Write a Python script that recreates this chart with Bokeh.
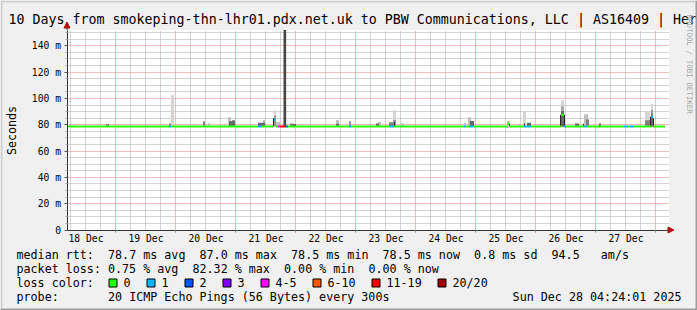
import re
import numpy as np
import pandas as pd
from bokeh.plotting import figure
from bokeh.models import (Range1d, FixedTicker, DatetimeTickFormatter, Label, Grid,
                          BoxAnnotation, Arrow, NormalHead, ColumnDataSource)
from bokeh.embed import file_html
from bokeh.resources import INLINE

# ------------------------------------------------------------------ data
title_text = "10 Days from smokeping-thn-lhr01.pdx.net.uk to PBW Communications, LLC | AS16409 | Her"
graph_start = "2025-12-18 04:24:01"
graph_end = "2025-12-28 04:24:01"
data_end = "2025-12-28 03:36"
stamp_text = "Sun Dec 28 04:24:01 2025"

y_tick_values = [0, 20, 40, 60, 80, 100, 120, 140]
y_tick_labels = ["0", "20 m", "40 m", "60 m", "80 m", "100 m", "120 m", "140 m"]
x_tick_days = ["2025-12-18", "2025-12-19", "2025-12-20", "2025-12-21", "2025-12-22",
               "2025-12-23", "2025-12-24", "2025-12-25", "2025-12-26", "2025-12-27"]
x_tick_labels = ["18 Dec", "19 Dec", "20 Dec", "21 Dec", "22 Dec",
                 "23 Dec", "24 Dec", "25 Dec", "26 Dec", "27 Dec"]

# median rtt (ms) as a step series with lost pings (of 20) per step
med_time = ["2025-12-18 04:24", "2025-12-19 21:12", "2025-12-19 22:00", "2025-12-21 08:48",
            "2025-12-21 10:00", "2025-12-21 15:12", "2025-12-21 16:00", "2025-12-21 16:48",
            "2025-12-21 17:36", "2025-12-21 20:00", "2025-12-21 20:48", "2025-12-22 21:12",
            "2025-12-22 22:00", "2025-12-23 13:36", "2025-12-23 15:12", "2025-12-24 19:12",
            "2025-12-24 19:36", "2025-12-24 21:12", "2025-12-24 23:12", "2025-12-25 12:48",
            "2025-12-25 13:12", "2025-12-25 19:12", "2025-12-25 22:00", "2025-12-26 10:00",
            "2025-12-26 11:12", "2025-12-26 12:00", "2025-12-26 19:12", "2025-12-26 20:24",
            "2025-12-27 01:12", "2025-12-27 01:36", "2025-12-27 11:12", "2025-12-27 12:48",
            "2025-12-27 13:36", "2025-12-27 15:12", "2025-12-27 22:00", "2025-12-27 22:48"]
med_value = [78.7, 78.7, 78.7, 78.7, 78.7, 84.0, 78.7, 78.7, 78.7, 78.7, 78.7, 78.7,
             78.7, 78.7, 78.7, 78.7, 78.7, 78.7, 78.7, 81.0, 78.7, 78.7, 78.7, 87.5,
             78.7, 78.7, 78.7, 78.7, 78.7, 78.7, 78.7, 78.7, 78.7, 78.7, 86.0, 78.7]
med_loss = [0, 1, 0, 1, 0, 1, 0, 4, 15, 2, 0, 1,
            0, 1, 0, 1, 0, 1, 0, 0, 0, 1, 0, 0,
            1, 0, 1, 0, 1, 0, 1, 0, 1, 0, 1, 0]

# smoke: ping spread above the median (start, minutes, top ms, density 0..1)
smoke_time = ["2025-12-18 20:00", "2025-12-19 21:12", "2025-12-19 22:00", "2025-12-20 10:48",
              "2025-12-20 12:48", "2025-12-20 17:36", "2025-12-20 19:12", "2025-12-20 20:48",
              "2025-12-20 21:12", "2025-12-20 22:24", "2025-12-21 08:48", "2025-12-21 10:48",
              "2025-12-21 14:48", "2025-12-21 15:12", "2025-12-21 15:12", "2025-12-21 16:00",
              "2025-12-21 19:00", "2025-12-21 21:36", "2025-12-21 23:12", "2025-12-22 16:00",
              "2025-12-22 16:00", "2025-12-22 21:12", "2025-12-23 08:00", "2025-12-23 08:48",
              "2025-12-23 13:12", "2025-12-23 14:48", "2025-12-23 14:48", "2025-12-23 15:12",
              "2025-12-23 17:36", "2025-12-24 19:12", "2025-12-24 20:48", "2025-12-24 21:36",
              "2025-12-25 12:24", "2025-12-25 13:12", "2025-12-25 17:12", "2025-12-25 18:48",
              "2025-12-25 19:12", "2025-12-25 20:24", "2025-12-26 09:36", "2025-12-26 10:00",
              "2025-12-26 10:00", "2025-12-26 10:00", "2025-12-26 11:12", "2025-12-26 15:36",
              "2025-12-26 18:48", "2025-12-26 19:12", "2025-12-26 20:00", "2025-12-27 01:12",
              "2025-12-27 19:36", "2025-12-27 19:36", "2025-12-27 21:36", "2025-12-27 22:00",
              "2025-12-27 22:00", "2025-12-27 22:00", "2025-12-27 22:48"]
smoke_minutes = [72, 48, 72, 48, 48, 24, 24, 72, 144, 72, 168, 48,
                 24, 48, 48, 96, 64, 96, 48, 72, 72, 48, 72, 72,
                 96, 72, 72, 24, 96, 48, 72, 96, 72, 24, 24, 72,
                 24, 96, 24, 72, 72, 72, 24, 96, 24, 96, 72, 48,
                 120, 120, 24, 48, 48, 48, 24]
smoke_top = [80.6, 81.0, 102.5, 82.4, 81.2, 80.6, 80.6, 85.7, 82.6, 83.6, 81.6, 83.6,
             85.0, 91.0, 87.0, 82.0, 152.0, 81.0, 80.4, 83.6, 80.8, 82.6, 81.0, 82.0,
             81.9, 91.0, 83.6, 82.0, 81.0, 81.4, 85.7, 82.8, 82.6, 80.5, 80.3, 89.7,
             81.0, 81.5, 87.5, 98.7, 94.0, 90.5, 87.5, 81.0, 80.8, 88.0, 84.0, 81.0,
             89.7, 83.4, 86.0, 96.0, 91.0, 88.0, 85.0]
smoke_density = [0.6, 0.6, 0.2, 0.6, 0.3, 0.3, 0.3, 0.3, 0.7, 0.5, 0.7, 0.3,
                 1.0, 0.2, 0.5, 0.3, 0.85, 0.6, 0.9, 0.3, 0.7, 0.5, 0.7, 0.3,
                 0.6, 0.2, 0.5, 1.0, 0.3, 0.3, 0.3, 0.7, 0.3, 1.0, 0.3, 0.2,
                 1.0, 0.7, 1.0, 0.2, 0.4, 0.7, 1.0, 0.7, 1.0, 0.3, 0.6, 0.7,
                 0.2, 0.6, 1.0, 0.2, 0.5, 0.7, 1.0]
median_baseline = 78.7

loss_labels = ["0", "1", "2", "3", "4-5", "6-10", "11-19", "20/20"]
loss_upper = [0, 1, 2, 3, 5, 10, 19, 20]
loss_colors = ["#26ff00", "#00b8ff", "#0059ff", "#7e00ff", "#ff00ff", "#ff5500", "#ff0000", "#a10000"]

median_stats = [78.7, 87.0, 78.5, 78.5, 0.8, 94.5]
loss_stats = [0.75, 82.32, 0.00, 0.00]
probe_text = "20 ICMP Echo Pings (56 Bytes) every 300s"

# ------------------------------------------------------------------ helpers
W, H = 697, 310
FL, FR, FT, FB = 66.5, 666.5, 29.5, 229.5   # plot-area edges (pixel centres)
MONO = "DejaVu Sans Mono"
Y_TOP = 152.0


def ms(values):
    return pd.DatetimeIndex(pd.to_datetime(values)).as_unit("ns").asi8 / 1e6


def loss_color(n):
    for up, c in zip(loss_upper, loss_colors):
        if n <= up:
            return c
    return loss_colors[-1]


def gray(d):
    g = int(round(255 - d * 215))
    return "#%02x%02x%02x" % (g, g, g)


X0 = ms([graph_start])[0]
X1 = ms([graph_end])[0]
x_per_px = (X1 - X0) / (FR - FL)
y_per_px = Y_TOP / (FB - FT)

# the frame covers the whole canvas; the plot area is mapped to FL..FR / FT..FB
p = figure(width=W, height=H, x_axis_type="datetime",
           x_range=Range1d(X0 - FL * x_per_px, X1 + (W - FR) * x_per_px),
           y_range=Range1d(-(H - FB) * y_per_px, Y_TOP + FT * y_per_px),
           output_backend="svg", toolbar_location=None, title=None,
           min_border=0, background_fill_color="#f0f0f0", border_fill_color="#f0f0f0",
           outline_line_color=None)

# white plot canvas
p.add_layout(BoxAnnotation(left=X0, right=X1 + 2 * x_per_px, bottom=0, top=Y_TOP,
                           fill_color="white", fill_alpha=1.0, line_color=None,
                           level="image"))

# ------------------------------------------------------------------ grids
noons = ms(x_tick_days) + 12 * 3600000.0
midnights = ms(x_tick_days) + 24 * 3600000.0
mid_set = set(midnights)
six_hours = [t for t in np.arange(ms(["2025-12-18 06:00"])[0], X1, 6 * 3600000.0)
             if t not in mid_set]
y_minor = [v for v in range(5, 155, 5) if v % 20]

major_x = p.xgrid[0]
major_y = p.ygrid[0]
major_x.ticker = FixedTicker(ticks=list(midnights))
major_x.bounds = (X0, X1)
major_x.cross_bounds = (0, Y_TOP)
major_y.ticker = FixedTicker(ticks=y_tick_values[1:])
major_y.bounds = (0, Y_TOP)
major_y.cross_bounds = (X0, X1 + 2 * x_per_px)
for g in (major_x, major_y):
    g.grid_line_color = "#f07878"
    g.grid_line_dash = "1 1"
    g.minor_grid_line_color = None

GRID_MINOR = dict(grid_line_color="#a8a8a8", grid_line_dash="1 1", grid_line_width=1)
p.add_layout(Grid(dimension=0, ticker=FixedTicker(ticks=six_hours),
                  bounds=(X0, X1), cross_bounds=(0, Y_TOP), level="underlay", **GRID_MINOR))
p.add_layout(Grid(dimension=1, ticker=FixedTicker(ticks=y_minor),
                  bounds=(0, Y_TOP), cross_bounds=(X0, X1 + 2 * x_per_px),
                  level="underlay", **GRID_MINOR))

# smoke
s_left = ms(smoke_time)
s_right = s_left + np.asarray(smoke_minutes) * 60000.0
order = np.argsort(np.asarray(smoke_density), kind="stable")
smoke_src = ColumnDataSource(dict(
    left=s_left[order], right=s_right[order],
    top=np.asarray(smoke_top)[order],
    bottom=np.full(len(order), median_baseline),
    color=[gray(smoke_density[i]) for i in order]))
p.quad(left="left", right="right", top="top", bottom="bottom",
       fill_color="color", line_color=None, source=smoke_src)

# median line coloured by loss
m_start = ms(med_time)
m_end = np.append(m_start[1:], ms([data_end])[0])
med_src = ColumnDataSource(dict(x0=m_start, x1=m_end, y=med_value,
                                color=[loss_color(n) for n in med_loss]))
p.segment(x0="x0", y0="y", x1="x1", y1="y", line_color="color", line_width=2,
          source=med_src)

# ------------------------------------------------------------------ axes
p.xaxis.fixed_location = 0
p.xaxis.bounds = (X0, X1)
p.xaxis.ticker = FixedTicker(ticks=list(noons), minor_ticks=list(midnights))
p.xaxis.formatter = DatetimeTickFormatter(days="%d %b", hours="%d %b", months="%d %b")
p.xaxis.major_label_overrides = {int(t): lab for t, lab in zip(noons, x_tick_labels)}
p.xaxis.major_tick_line_color = None
p.xaxis.major_tick_out = 0
p.xaxis.major_tick_in = 0
p.xaxis.minor_tick_line_color = "#e07070"
p.xaxis.minor_tick_out = 2
p.xaxis.minor_tick_in = 0
p.xaxis.major_label_standoff = 1

p.yaxis.fixed_location = X0
p.yaxis.bounds = (0, Y_TOP)
p.yaxis.ticker = FixedTicker(ticks=y_tick_values, minor_ticks=y_minor)
p.yaxis.major_label_overrides = dict(zip(y_tick_values, y_tick_labels))
p.yaxis.major_tick_line_color = "#555555"
p.yaxis.major_tick_out = 3
p.yaxis.major_tick_in = 0
p.yaxis.minor_tick_line_color = "#aaaaaa"
p.yaxis.minor_tick_out = 2
p.yaxis.minor_tick_in = 0
p.yaxis.major_label_standoff = 3
p.yaxis.axis_label = "Seconds"
p.yaxis.axis_label_standoff = 10
p.yaxis.axis_label_text_font = MONO
p.yaxis.axis_label_text_font_size = "11.7px"
p.yaxis.axis_label_text_font_style = "normal"
p.yaxis.axis_label_text_color = "black"

for ax in (p.xaxis, p.yaxis):
    ax.axis_line_color = "#333333"
    ax.major_label_text_font = MONO
    ax.major_label_text_font_size = "9.7px"
    ax.major_label_text_color = "black"


# ------------------------------------------------------------------ screen helpers
def sx(cx):
    return cx


def sy(cy):
    return H - cy


# axis arrows
head = dict(size=6, fill_color="#b01010", line_color="#b01010")
p.add_layout(Arrow(x_start=sx(FR), y_start=sy(FB), x_end=sx(FR + 7), y_end=sy(FB),
                   start_units="screen", end_units="screen", line_color="#333333",
                   end=NormalHead(**head)))
p.add_layout(Arrow(x_start=sx(FL), y_start=sy(FT), x_end=sx(FL), y_end=sy(FT - 8),
                   start_units="screen", end_units="screen", line_color="#333333",
                   end=NormalHead(**head)))


def text(cx, cy, s, size="11.7px", align="left", color="black", angle=0.0,
         baseline="alphabetic"):
    p.add_layout(Label(x=sx(cx), y=sy(cy), x_units="screen", y_units="screen", text=s,
                       text_font=MONO, text_font_size=size, text_color=color,
                       text_align=align, text_baseline=baseline, angle=angle))


def box(l, r, t, b, color, line=None):
    p.add_layout(BoxAnnotation(left=sx(l), right=sx(r), top=sy(t), bottom=sy(b),
                               left_units="screen", right_units="screen",
                               top_units="screen", bottom_units="screen",
                               fill_color=color, fill_alpha=1.0,
                               line_color=line, line_width=1, line_alpha=1.0))


text(8, 19, title_text, size="13.3px")
text(689, 14, "RRDTOOL / TOBI OETIKER", size="7.5px", color="#a8a8a8",
     angle=-np.pi / 2, baseline="middle")

CW = 7.04
row1 = ("median rtt:  %.1f ms avg  %.1f ms max  %.1f ms min  %.1f ms now  %.1f ms sd  %.1f   am/s"
        % tuple(median_stats))
row2 = "packet loss: %.2f %% avg  %.2f %% max  %.2f %% min  %.2f %% now" % tuple(loss_stats)
row4 = "probe:       " + probe_text
for row, base in ((row1, 254), (row2, 268), (row4, 296)):
    for m in re.finditer(r"\S+(?: \S+)*", row):
        text(16 + m.start() * CW, base, m.group(0))
text(16, 282, "loss color:")
text(681, 296, stamp_text, align="right")

# loss colour legend
bx = 108.5
for lab, col in zip(loss_labels, loss_colors):
    box(bx, bx + 8, 278.5, 286.5, col, line="black")
    tx = bx + 14.5
    text(tx, 282, lab)
    bx = round(tx + len(lab) * CW + 15.6) + 0.5

# image shading border
box(0, W, 0, 2, "#cfcfcf")
box(0, 2, 0, H, "#cfcfcf")
box(W - 2, W, 0, H, "#9e9e9e")
box(0, W, H - 2, H, "#9e9e9e")

open("out.html", "w").write(file_html(p, INLINE))
